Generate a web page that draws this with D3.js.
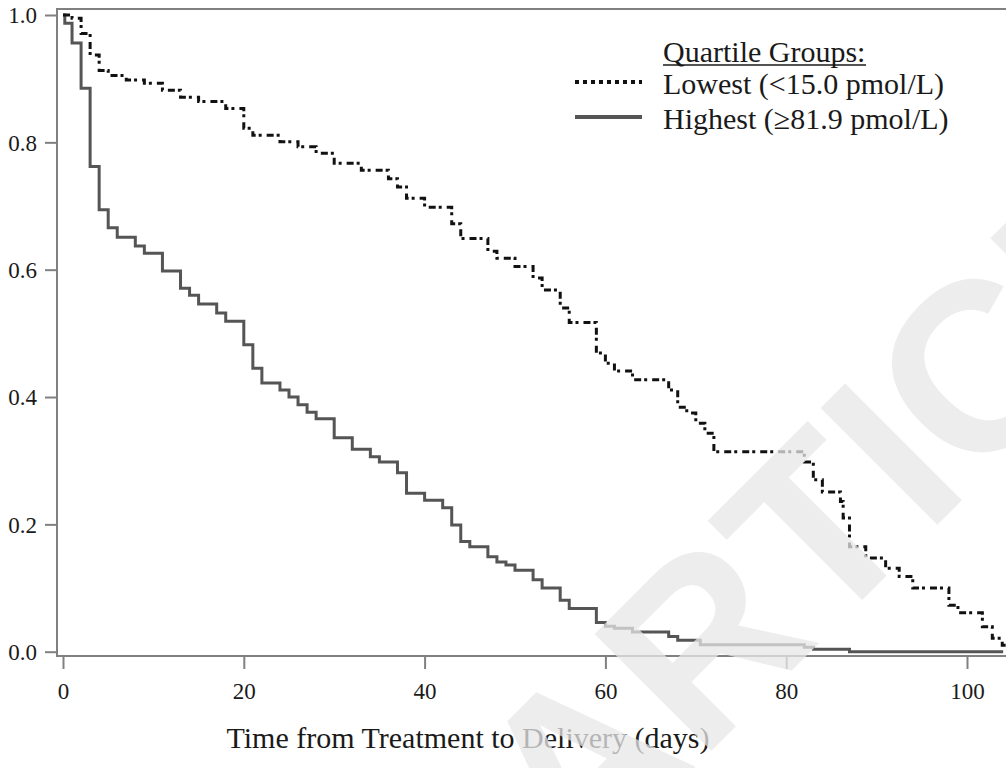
<!DOCTYPE html>
<meta charset="utf-8">
<head>
<script src="https://d3js.org/d3.v7.min.js"></script>
<style>
  body { margin: 0; background: #fff; }
  text { font-family: "Liberation Serif", "Times New Roman", serif; fill: #1a1a1a; }
  .axis path, .axis line { stroke: #808080; stroke-width: 2px; }
  .axis text { font-size: 23px; }
</style>
</head>
<body>
<svg id="chart" width="1006" height="768"></svg>
<script>
  // time (days) and survival for each quartile group
  var lowTime = [0, 1, 2, 3, 4, 5, 7, 9, 11, 13, 15, 18, 20, 21, 24, 26, 28, 30, 33, 36, 37, 38, 40, 43, 44,
    47, 48, 50, 52, 53, 55, 56, 59, 60, 61, 63, 67, 68, 69, 70, 71, 72, 82, 83, 84, 86, 86.3, 87, 88.8,
    91, 92.5, 94, 98, 99, 101.7, 102.8, 103.9, 104.5];
  var lowSurv = [1.0, 0.995, 0.971, 0.937, 0.913, 0.905, 0.898, 0.893, 0.882, 0.871, 0.864, 0.853, 0.822,
    0.811, 0.801, 0.793, 0.783, 0.767, 0.756, 0.743, 0.730, 0.712, 0.698, 0.672, 0.649, 0.629, 0.618,
    0.605, 0.587, 0.568, 0.540, 0.517, 0.469, 0.453, 0.441, 0.427, 0.411, 0.384, 0.375, 0.359, 0.343,
    0.314, 0.298, 0.270, 0.251, 0.236, 0.210, 0.165, 0.147, 0.131, 0.118, 0.100, 0.073, 0.061, 0.039,
    0.021, 0.010, 0.010];

  var highTime = [0, 0.2, 1, 2, 3, 4, 5, 6, 8, 9, 11, 13, 14, 15, 17, 18, 20, 21, 22, 24, 25, 26, 27, 28,
    30, 32, 34, 35, 37, 38, 40, 42, 43, 44, 45, 47, 48, 49, 50, 52, 53, 55, 56, 59, 60, 61, 63, 67, 68,
    70.5, 82, 83, 87, 104];
  var highSurv = [1.0, 0.987, 0.956, 0.885, 0.762, 0.694, 0.666, 0.651, 0.637, 0.626, 0.598, 0.571, 0.560,
    0.546, 0.532, 0.519, 0.482, 0.445, 0.422, 0.411, 0.400, 0.388, 0.376, 0.366, 0.336, 0.318, 0.306,
    0.298, 0.281, 0.249, 0.238, 0.226, 0.199, 0.173, 0.165, 0.149, 0.141, 0.136, 0.128, 0.113, 0.100,
    0.081, 0.068, 0.046, 0.040, 0.037, 0.031, 0.024, 0.018, 0.011, 0.007, 0.004, 0.0, 0.0];

  var xTicks = [0, 20, 40, 60, 80, 100];
  var yTicks = [0, 0.2, 0.4, 0.6, 0.8, 1.0];
  var legendTitle = "Quartile Groups:";
  var legendLabels = ["Lowest (<15.0 pmol/L)", "Highest (\u226581.9 pmol/L)"];
  var xTitle = "Time from Treatment to Delivery (days)";

  var svg = d3.select("#chart");

  var x = d3.scaleLinear().domain([0, 100]).range([63, 967]);
  var y = d3.scaleLinear().domain([0, 1]).range([651.7, 15]);

  // frame
  svg.append("rect")
    .attr("x", 57).attr("y", 9)
    .attr("width", 960).attr("height", 647)
    .attr("fill", "none").attr("stroke", "#808080").attr("stroke-width", 2);

  // axes
  var yAxis = svg.append("g").attr("class", "axis")
    .attr("transform", "translate(57,0)")
    .call(d3.axisLeft(y).tickValues(yTicks).tickFormat(d3.format(".1f")).tickSize(12).tickPadding(8));
  yAxis.select(".domain").remove();
  yAxis.selectAll("text").attr("dy", "0.34em");

  var xAxis = svg.append("g").attr("class", "axis")
    .attr("transform", "translate(0,656)")
    .call(d3.axisBottom(x).tickValues(xTicks).tickFormat(d3.format("d")).tickSize(13).tickPadding(14));
  xAxis.select(".domain").remove();

  svg.append("text")
    .attr("x", 468).attr("y", 748)
    .attr("text-anchor", "middle")
    .style("font-size", "30px")
    .text(xTitle);

  // curves
  var line = d3.line()
    .x(function(d) { return x(d[0]); })
    .y(function(d) { return y(d[1]); })
    .curve(d3.curveStepAfter);

  svg.append("path")
    .datum(d3.zip(highTime, highSurv))
    .attr("d", line)
    .attr("fill", "none")
    .attr("stroke", "#555")
    .attr("stroke-width", 3);

  svg.append("path")
    .datum(d3.zip(lowTime, lowSurv))
    .attr("d", line)
    .attr("fill", "none")
    .attr("stroke", "#111")
    .attr("stroke-width", 3)
    .attr("stroke-dasharray", "7,3,3,5");

  // legend
  var lg = svg.append("g");
  lg.append("text")
    .attr("x", 663).attr("y", 62)
    .style("font-size", "30px")
    .text(legendTitle);
  lg.append("line")
    .attr("x1", 663).attr("x2", 866).attr("y1", 65).attr("y2", 65)
    .attr("stroke", "#1a1a1a").attr("stroke-width", 1.5);

  lg.selectAll("text.lab")
    .data(legendLabels)
    .enter().append("text")
    .attr("class", "lab")
    .attr("x", 663)
    .attr("y", function(d, i) { return 94 + i * 35; })
    .style("font-size", "30px")
    .text(function(d) { return d; });

  lg.append("line")
    .attr("x1", 575).attr("x2", 642).attr("y1", 82).attr("y2", 82)
    .attr("stroke", "#111").attr("stroke-width", 4)
    .attr("stroke-dasharray", "4,4");
  lg.append("line")
    .attr("x1", 575).attr("x2", 642).attr("y1", 117).attr("y2", 117)
    .attr("stroke", "#555").attr("stroke-width", 4);

  // watermark laid over everything
  svg.append("text")
    .attr("transform", "translate(945,517) rotate(-45)")
    .attr("text-anchor", "middle")
    .style("font-family", "'Liberation Sans', Arial, sans-serif")
    .style("font-weight", "bold")
    .style("font-size", "240px")
    .style("fill", "rgb(232,232,232)")
    .style("opacity", 0.75)
    .text("ARTICLE");
</script>
</body>
